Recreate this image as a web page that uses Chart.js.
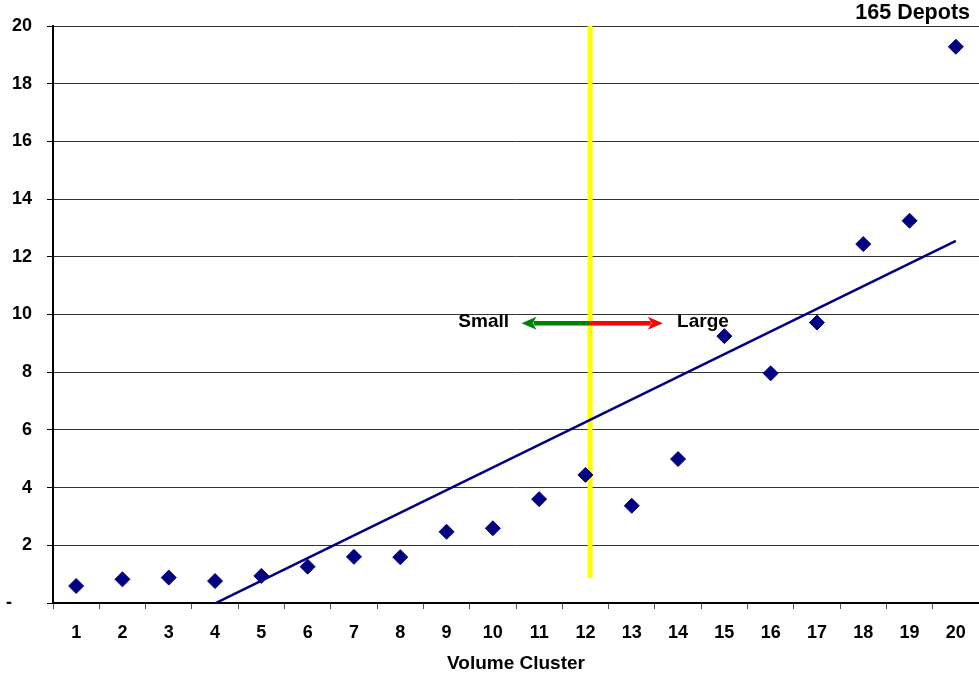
<!DOCTYPE html>
<html>
<head>
<meta charset="utf-8">
<script src="https://cdn.jsdelivr.net/npm/chart.js@4/dist/chart.umd.min.js"></script>
<style>
  html, body { margin: 0; padding: 0; background: #fff; }
  #wrap { width: 979px; height: 676px; position: relative; }
</style>
</head>
<body>
<div id="wrap"><canvas id="c" width="979" height="676"></canvas></div>
<script>
// Volume clusters on the x axis
const clusters = ['1','2','3','4','5','6','7','8','9','10','11','12','13','14','15','16','17','18','19','20'];
// Value per volume cluster
const clusterValues = [0.59, 0.82, 0.88, 0.76, 0.94, 1.26, 1.60, 1.59, 2.47, 2.59,
                       3.60, 4.44, 3.37, 4.99, 9.25, 7.96, 9.72, 12.44, 13.25, 19.28];
// Linear trend: value at first and last cluster
const trendStart = -2.37;
const trendEnd = 12.55;
// Y axis tick labels (0 shown as a dash, accounting style)
const yTickLabels = ['-    ', '2', '4', '6', '8', '10', '12', '14', '16', '18', '20'];
// Small / large split marker
const splitX = 12.1;
const splitBottom = 0.87;
const splitTop = 20;
// Arrows from the split line
const arrowY = 9.7;
const smallArrowTip = 10.62;
const largeArrowTip = 13.67;
const smallLabelX = 10.35;
const largeLabelX = 13.98;
const chartTitle = '165 Depots';

const FONT = '"Liberation Sans", Arial, sans-serif';

const trendData = clusters.map((c, i) => i === 0 ? trendStart : (i === clusters.length - 1 ? trendEnd : null));

const annotations = {
  id: 'annotations',
  afterDatasetsDraw(chart) {
    const ctx = chart.ctx;
    const xs = chart.scales.xl, ys = chart.scales.y;
    const y = ys.getPixelForValue(arrowY);
    const x0 = xs.getPixelForValue(splitX);
    const drawArrow = (tipVal, color) => {
      const xt = xs.getPixelForValue(tipVal);
      const dir = Math.sign(xt - x0);
      const headLen = 15, headHalf = 6.5;
      ctx.save();
      ctx.strokeStyle = color;
      ctx.fillStyle = color;
      ctx.lineWidth = 4.5;
      ctx.beginPath();
      ctx.moveTo(x0, y);
      ctx.lineTo(xt - dir * (headLen - 3), y);
      ctx.stroke();
      ctx.beginPath();
      ctx.moveTo(xt, y);
      ctx.lineTo(xt - dir * headLen, y - headHalf);
      ctx.lineTo(xt - dir * (headLen - 4), y);
      ctx.lineTo(xt - dir * headLen, y + headHalf);
      ctx.closePath();
      ctx.fill();
      ctx.restore();
    };
    drawArrow(smallArrowTip, '#008000');
    drawArrow(largeArrowTip, '#FF0000');

    ctx.save();
    ctx.fillStyle = '#000';
    ctx.font = 'bold 19px ' + FONT;
    ctx.textBaseline = 'middle';
    ctx.textAlign = 'right';
    ctx.fillText('Small', xs.getPixelForValue(smallLabelX), y - 1);
    ctx.textAlign = 'left';
    ctx.fillText('Large', xs.getPixelForValue(largeLabelX), y - 1);
    ctx.font = 'bold 21.5px ' + FONT;
    ctx.textAlign = 'right';
    ctx.fillText(chartTitle, 970, 13);
    ctx.restore();
  }
};

new Chart(document.getElementById('c'), {
  type: 'line',
  data: {
    labels: clusters,
    datasets: [
      {
        label: 'Split',
        xAxisID: 'xl',
        data: [{x: splitX, y: splitBottom}, {x: splitX, y: splitTop}],
        borderColor: '#FFFF00',
        borderWidth: 5,
        pointRadius: 0,
        order: 3
      },
      {
        label: 'Trend',
        data: trendData,
        spanGaps: true,
        borderColor: '#000080',
        borderWidth: 2.5,
        pointRadius: 0,
        order: 2
      },
      {
        label: 'Value',
        data: clusterValues,
        showLine: false,
        pointStyle: 'rectRot',
        pointRadius: 7.5,
        pointBackgroundColor: '#000080',
        pointBorderColor: '#000080',
        pointBorderWidth: 1,
        order: 1
      }
    ]
  },
  options: {
    responsive: false,
    animation: false,
    layout: { autoPadding: false, padding: { top: 26, right: 0, left: 0, bottom: 0 } },
    plugins: {
      legend: { display: false },
      tooltip: { enabled: false },
      title: { display: false }
    },
    scales: {
      x: {
        type: 'category',
        offset: true,
        grid: {
          offset: true,
          drawOnChartArea: false,
          drawTicks: true,
          tickLength: 6,
          tickColor: '#555'
        },
        border: { color: '#000', width: 2 },
        ticks: {
          color: '#000',
          font: { family: FONT, size: 18, weight: 'bold' },
          padding: 13,
          maxRotation: 0,
          autoSkip: false
        },
        title: {
          display: true,
          text: 'Volume Cluster',
          color: '#000',
          font: { family: FONT, size: 19, weight: 'bold' },
          padding: { top: 0, bottom: 1 }
        },
        afterFit(s) { s.height = 73; s.paddingLeft = 0; s.paddingRight = 0; }
      },
      xl: {
        type: 'linear',
        display: false,
        min: 0.5,
        max: 20.5
      },
      y: {
        min: 0,
        max: 20,
        ticks: {
          stepSize: 2,
          color: '#000',
          font: { family: FONT, size: 18, weight: 'bold' },
          padding: 15,
          callback: (v) => yTickLabels[Math.round(v / 2)]
        },
        grid: {
          color: '#333',
          lineWidth: 1,
          tickLength: 6,
          tickColor: '#000'
        },
        border: { color: '#000', width: 2 },
        afterFit(s) { s.width = 53; }
      }
    }
  },
  plugins: [annotations]
});
</script>
</body>
</html>
